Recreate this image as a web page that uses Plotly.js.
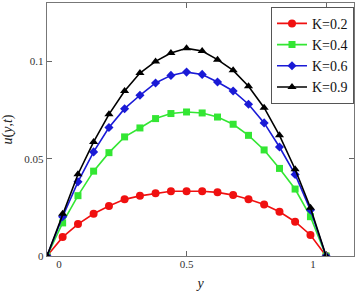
<!DOCTYPE html>
<html>
<head>
<meta charset="utf-8">
<script src="https://cdn.plot.ly/plotly-3.0.1.min.js"></script>
<style>html,body{margin:0;padding:0;background:#fff;}#chart{width:358px;height:291px;}</style>
</head>
<body>
<div id="chart"></div>
<script>
// y positions (x-axis variable "y"), 19 nodes
var yPos = [0, 0.056, 0.111, 0.167, 0.222, 0.278, 0.333, 0.389, 0.444, 0.5,
            0.556, 0.611, 0.667, 0.722, 0.778, 0.833, 0.889, 0.944, 1.0];
var names = ["K=0.2", "K=0.4", "K=0.6", "K=0.9"];
var uK02 = [0, 0.0097, 0.0164, 0.0217, 0.0257, 0.0291, 0.0309, 0.0322, 0.0333, 0.0333,
            0.0333, 0.0327, 0.0313, 0.0292, 0.0265, 0.0227, 0.0176, 0.0108, 0];
var uK04 = [0, 0.0170, 0.0310, 0.0436, 0.0531, 0.0612, 0.0658, 0.0706, 0.0732, 0.0740,
            0.0735, 0.0714, 0.0677, 0.0620, 0.0545, 0.0450, 0.0344, 0.0202, 0];
var uK06 = [0, 0.0202, 0.0381, 0.0535, 0.0660, 0.0757, 0.0826, 0.0889, 0.0928, 0.0945,
            0.0933, 0.0894, 0.0848, 0.0780, 0.0684, 0.0560, 0.0419, 0.0236, 0];
var uK09 = [0, 0.0217, 0.0420, 0.0586, 0.0728, 0.0848, 0.0940, 0.1000, 0.1043, 0.1067,
            0.1053, 0.1009, 0.0954, 0.0872, 0.0762, 0.0620, 0.0446, 0.0248, 0];
var colors = ["#f01010", "#33e633", "#1a1ad6", "#000000"];
var symbols = ["circle", "square", "diamond", "triangle-up"];
var sizes = [8, 7, 7, 8];
var xTickVals = [0, 0.5, 1];
var xLabelPos = [0.043, 0.5, 0.953];
var xLabelText = ["0", "0.5", "1"];
var yTickVals = [0, 0.05, 0.1];
var yTickText = ["0", "0.05", "0.1"];

var series = [uK02, uK04, uK06, uK09];
var traces = series.map(function (s, i) {
  return {
    x: yPos, y: s, name: names[i], type: "scatter", mode: "lines+markers",
    line: {color: colors[i], width: 1.6},
    marker: {color: colors[i], symbol: symbols[i], size: sizes[i]}
  };
});
// empty helper trace so the label axis (x2) is drawn
traces.push({x: [], y: [], xaxis: "x2", yaxis: "y", type: "scatter", mode: "markers",
             showlegend: false, hoverinfo: "skip"});

var fontFam = "Liberation Serif, Times New Roman, serif";
var layout = {
  width: 358, height: 291,
  margin: {l: 47, r: 4, t: 3, b: 35},
  paper_bgcolor: "#fff", plot_bgcolor: "#fff",
  font: {family: fontFam, size: 11, color: "#333"},
  showlegend: true,
  legend: {
    x: 1, xanchor: "right", y: 0.985, yanchor: "top",
    bgcolor: "#fff", bordercolor: "#555", borderwidth: 1,
    font: {family: fontFam, size: 14, color: "#111"},
    itemwidth: 30, tracegroupgap: 0
  },
  xaxis: {
    range: [0, 1.1], tickvals: xTickVals, showticklabels: false,
    ticks: "inside", ticklen: 5, tickcolor: "#666",
    showline: true, linecolor: "#777", linewidth: 1.3, mirror: "ticks",
    showgrid: false, zeroline: false,
    title: {text: "<i>y</i>", font: {family: fontFam, size: 14, color: "#222"}, standoff: 23}
  },
  xaxis2: {
    overlaying: "x", anchor: "y", side: "bottom",
    range: [0, 1.1], tickvals: xLabelPos, ticktext: xLabelText,
    ticks: "", showline: false, showgrid: false, zeroline: false,
    tickfont: {family: fontFam, size: 11, color: "#333"}
  },
  yaxis: {
    range: [0, 0.13], tickvals: yTickVals, ticktext: yTickText,
    ticks: "inside", ticklen: 5, tickcolor: "#666",
    showline: true, linecolor: "#777", linewidth: 1.3, mirror: "ticks",
    showgrid: false, zeroline: false,
    title: {text: "<i>u</i>(<i>y</i>,<i>t</i>)", font: {family: fontFam, size: 14, color: "#222"}, standoff: 10}
  }
};

Plotly.newPlot("chart", traces, layout, {displayModeBar: false, staticPlot: true});
</script>
</body>
</html>
